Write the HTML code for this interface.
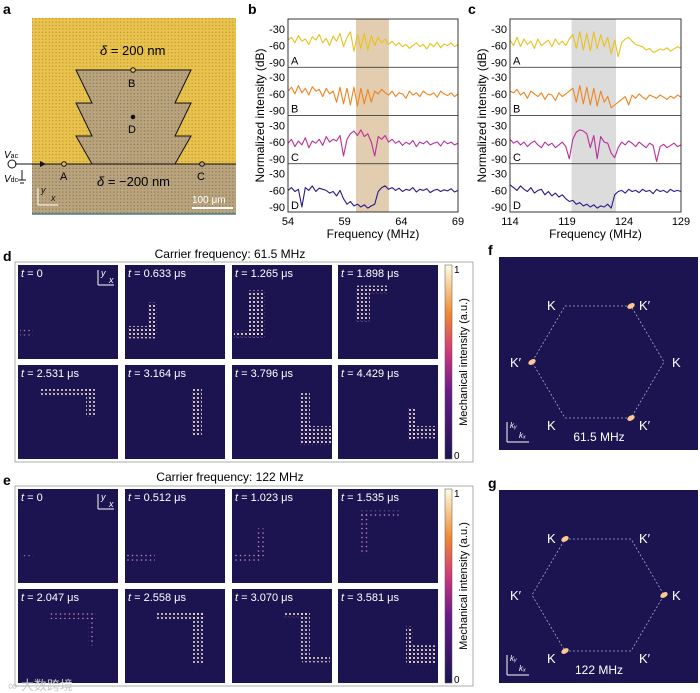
<!DOCTYPE html>
<html><head><meta charset="utf-8"><style>
html,body{margin:0;padding:0;background:#fff;}
svg{display:block;font-family:"Liberation Sans","Noto Sans CJK SC",sans-serif;}
</style></head><body>
<svg id="fig" width="700" height="693" viewBox="0 0 700 693">
<defs>
<pattern id="dotsY" width="3.4" height="3.4" patternUnits="userSpaceOnUse"><rect width="3.4" height="3.4" fill="#e9c34c"/><circle cx="1.7" cy="1.7" r="0.6" fill="#b08a35"/></pattern>
<pattern id="dotsT" width="3.4" height="3.4" patternUnits="userSpaceOnUse"><rect width="3.4" height="3.4" fill="#b9a47e"/><circle cx="1.7" cy="1.7" r="0.6" fill="#7d6a4c"/></pattern>
<pattern id="hot" width="4" height="4" patternUnits="userSpaceOnUse"><circle cx="2" cy="2" r="1" fill="#fff7d8"/><circle cx="0" cy="0" r="0.7" fill="#e05aa0"/></pattern>
<pattern id="warm" width="4.5" height="4.5" patternUnits="userSpaceOnUse"><circle cx="2" cy="2" r="0.8" fill="#f3a0c8"/></pattern>
<linearGradient id="cbar" x1="0" y1="1" x2="0" y2="0"><stop offset="0" stop-color="#1b1450"/><stop offset="0.35" stop-color="#6a1a8a"/><stop offset="0.55" stop-color="#d0387a"/><stop offset="0.75" stop-color="#f08a30"/><stop offset="1" stop-color="#fdfde0"/></linearGradient>
</defs>

<g>
<text x="3" y="14" font-size="14" font-weight="bold">a</text>
<rect x="32" y="18" width="204" height="196" fill="url(#dotsY)"/>
<rect x="32" y="164" width="204" height="50" fill="url(#dotsT)"/>
<polygon points="76,70 191,70 175,103 191,103 175,136 191,136 175,164 92,164 76,136 92,136 76,103 92,103" fill="url(#dotsT)" stroke="#111" stroke-width="1"/>
<line x1="15" y1="164" x2="92" y2="164" stroke="#111" stroke-width="1"/>
<line x1="175" y1="164" x2="236" y2="164" stroke="#111" stroke-width="1"/>
<line x1="32" y1="214" x2="236" y2="214" stroke="#4a7a8a" stroke-width="1.5"/>
<text x="100" y="55" font-size="13"><tspan font-style="italic">δ</tspan> = 200 nm</text>
<text x="97" y="186" font-size="13"><tspan font-style="italic">δ</tspan> = −200 nm</text>
<circle cx="133" cy="70" r="2.3" fill="#e9c34c" stroke="#111"/><text x="128" y="87" font-size="11">B</text>
<circle cx="133" cy="117" r="2.3" fill="#111"/><text x="128" y="133" font-size="11">D</text>
<circle cx="64" cy="164" r="2.3" fill="#e9c34c" stroke="#111"/><text x="60" y="180" font-size="11">A</text>
<circle cx="202" cy="164" r="2.3" fill="#b9a47e" stroke="#111"/><text x="197" y="180" font-size="11">C</text>
<circle cx="12" cy="164" r="4" fill="none" stroke="#111"/>
<polygon points="40,161 46,164 40,167" fill="#111"/>
<text x="4" y="158" font-size="10" font-style="italic">V<tspan font-size="7" font-style="normal">ac</tspan></text>
<text x="4" y="182" font-size="10" font-style="italic">V<tspan font-size="7" font-style="normal">dc</tspan></text>
<line x1="22" y1="170" x2="22" y2="180" stroke="#111"/><line x1="18" y1="180" x2="26" y2="180" stroke="#111"/><line x1="20" y1="183" x2="24" y2="183" stroke="#111"/>
<line x1="38" y1="205" x2="58" y2="205" stroke="#fff"/><line x1="38" y1="205" x2="38" y2="188" stroke="#fff"/>
<text x="41" y="193" font-size="9" font-style="italic" fill="#111">y</text><text x="51" y="201" font-size="9" font-style="italic" fill="#111">x</text>
<line x1="192" y1="208" x2="233" y2="208" stroke="#fff" stroke-width="2"/>
<text x="192" y="203" font-size="10" fill="#fff">100 μm</text>
</g>

<text x="248" y="14" font-size="14" font-weight="bold">b</text>
<text x="468" y="14" font-size="14" font-weight="bold">c</text>
<g id="specB"></g>
<g id="specC"></g>

<text x="3" y="261" font-size="14" font-weight="bold">d</text>
<text x="230" y="258" font-size="12" text-anchor="middle">Carrier frequency: 61.5 MHz</text>
<text x="3" y="485" font-size="14" font-weight="bold">e</text>
<text x="230" y="481" font-size="12" text-anchor="middle">Carrier frequency: 122 MHz</text>
<g id="heatD"></g>
<g id="heatE"></g>

<text x="488" y="255" font-size="14" font-weight="bold">f</text>
<text x="488" y="488" font-size="14" font-weight="bold">g</text>
<g id="bz"></g>

<text x="8" y="690" font-size="13" fill="#c8c8c8">∞ 大数跨境</text>
</svg>
<script>
const NS="http://www.w3.org/2000/svg";
function mk(p,tag,at){const e=document.createElementNS(NS,tag);for(const k in at)e.setAttribute(k,at[k]);p.appendChild(e);return e;}

const freqRangeB=[54,69];
const freqRangeC=[114,129];
const bandB=[60,62.9];
const bandC=[119.4,123.3];
const traceLabels=["A","B","C","D"];
const traceColors=["#e8c21e","#ef8420","#b8309a","#2a1a8a"];
const dbTicks=[-30,-60,-90];
const ticksB=[54,59,64,69];
const ticksC=[114,119,124,129];
const bA=[-50,-45,-55,-42,-52,-48,-58,-44,-50,-40,-55,-47,-60,-43,-52,-38,-62,-45,-35,-70,-40,-65,-38,-68,-42,-60,-45,-55,-48,-58,-52,-60,-55,-62,-58,-65,-60,-55,-62,-58,-66,-56,-62,-54,-64,-57,-60,-55,-62,-58];
const bB=[-55,-48,-60,-45,-58,-50,-62,-47,-55,-52,-65,-50,-60,-55,-75,-48,-78,-50,-80,-48,-82,-50,-78,-52,-75,-55,-60,-52,-58,-62,-55,-65,-58,-60,-68,-55,-62,-58,-65,-55,-60,-62,-58,-66,-55,-60,-63,-58,-65,-60];
const bC=[-62,-55,-68,-58,-65,-52,-70,-58,-62,-55,-66,-50,-60,-55,-58,-48,-85,-55,-45,-40,-48,-38,-50,-45,-60,-85,-50,-55,-48,-60,-55,-62,-58,-66,-60,-64,-57,-68,-60,-63,-58,-65,-62,-60,-67,-58,-63,-60,-65,-62];
const bD=[-60,-55,-62,-58,-90,-55,-60,-52,-62,-56,-58,-60,-65,-62,-70,-60,-75,-85,-80,-88,-85,-90,-86,-92,-88,-85,-62,-55,-52,-58,-55,-60,-56,-62,-58,-60,-55,-63,-58,-60,-57,-64,-60,-58,-62,-59,-61,-57,-63,-60];
const cA=[-50,-60,-45,-62,-48,-58,-52,-65,-48,-60,-55,-50,-62,-48,-58,-52,-60,-48,-40,-65,-35,-68,-38,-70,-35,-66,-40,-62,-45,-75,-50,-80,-55,-48,-45,-52,-58,-60,-62,-68,-65,-72,-70,-66,-68,-64,-70,-66,-62,-65];
const cB=[-55,-58,-52,-62,-57,-68,-55,-60,-65,-58,-70,-60,-62,-72,-58,-65,-60,-55,-50,-75,-45,-78,-48,-80,-50,-82,-55,-75,-65,-85,-80,-75,-70,-65,-80,-62,-68,-60,-66,-70,-62,-65,-68,-62,-66,-70,-64,-68,-62,-66];
const cC=[-55,-62,-58,-65,-60,-68,-62,-58,-65,-70,-60,-66,-62,-70,-65,-60,-68,-90,-55,-42,-38,-40,-45,-70,-48,-90,-50,-60,-62,-80,-88,-70,-60,-65,-58,-62,-68,-60,-65,-70,-62,-66,-95,-68,-64,-70,-66,-62,-68,-65];
const cD=[-50,-55,-60,-52,-58,-62,-55,-65,-60,-58,-68,-62,-70,-65,-72,-68,-75,-80,-78,-85,-82,-88,-85,-90,-86,-92,-88,-90,-85,-92,-68,-62,-60,-65,-58,-62,-60,-64,-58,-62,-60,-66,-58,-62,-60,-64,-58,-62,-60,-62];

function spectra(g,x0,x1,range,band,bandColor,ticks,series,key){
  const top=19,bot=212,sub=(bot-top)/4;
  const xs=f=>x0+(f-range[0])/(range[1]-range[0])*(x1-x0);
  const b=mk(g,'rect',{x:xs(band[0]),y:top,width:xs(band[1])-xs(band[0]),height:bot-top,fill:bandColor});
  
  
  series.forEach((vals,i)=>{
    const t0=top+i*sub;
    const ys=v=>t0+(v+12)/(-87)*sub;
    let d='';
    vals.forEach((v,j)=>{const f=range[0]+j*(range[1]-range[0])/(vals.length-1);d+=(j?'L':'M')+xs(f).toFixed(1)+','+ys(v).toFixed(1);});
    const p=mk(g,'path',{d:d,fill:'none',stroke:traceColors[i],'stroke-width':1.1,'stroke-linejoin':'round'});
    
    
    const tl=mk(g,'text',{x:x0+3,y:t0+sub-3,'font-size':11});tl.textContent=traceLabels[i];
    if(i>0)mk(g,'line',{x1:x0,x2:x1,y1:t0,y2:t0,stroke:'#222','stroke-width':0.8});
    dbTicks.forEach(v=>{const t=mk(g,'text',{x:x0-3,y:ys(v)+4,'font-size':11,'text-anchor':'end'});t.textContent=v;});
  });
  mk(g,'rect',{x:x0,y:top,width:x1-x0,height:bot-top,fill:'none',stroke:'#222','stroke-width':0.9});
  ticks.forEach(f=>{const t=mk(g,'text',{x:xs(f),y:bot+13,'font-size':11,'text-anchor':'middle'});t.textContent=f;});
  const xl=mk(g,'text',{x:(x0+x1)/2,y:bot+26,'font-size':12,'text-anchor':'middle'});xl.textContent='Frequency (MHz)';
  
  
  const yl=mk(g,'text',{x:0,y:0,'font-size':12,'text-anchor':'middle',transform:`translate(${x0-24},${(top+bot)/2}) rotate(-90)`});yl.textContent='Normalized intensity (dB)';
  
  
}
spectra(document.getElementById('specB'),288,458,freqRangeB,bandB,'#e3cdb0',ticksB,[bA,bB,bC,bD],'b');
spectra(document.getElementById('specC'),510,681,freqRangeC,bandC,'#dcdcdc',ticksC,[cA,cB,cC,cD],'c');

const timesD=["0","0.633 μs","1.265 μs","1.898 μs","2.531 μs","3.164 μs","3.796 μs","4.429 μs"];
const timesE=["0","0.512 μs","1.023 μs","1.535 μs","2.047 μs","2.558 μs","3.070 μs","3.581 μs"];
const regionsD=[
 [[0.02,0.68,0.15,0.75]],
 [[0.02,0.65,0.3,0.78],[0.22,0.4,0.32,0.75]],
 [[0.17,0.27,0.33,0.77],[0.02,0.7,0.3,0.77]],
 [[0.18,0.22,0.32,0.6],[0.3,0.22,0.5,0.3]],
 [[0.22,0.25,0.75,0.32],[0.68,0.25,0.78,0.55]],
 [[0.67,0.25,0.77,0.75]],
 [[0.68,0.3,0.78,0.85],[0.72,0.65,1,0.85]],
 [[0.7,0.45,0.78,0.8],[0.72,0.65,0.98,0.78]]];
const regionsE=[
 [[0.05,0.7,0.15,0.75]],
 [[0.02,0.68,0.3,0.78]],
 [[0.02,0.68,0.3,0.78],[0.25,0.42,0.32,0.75]],
 [[0.22,0.23,0.62,0.3],[0.22,0.25,0.3,0.7]],
 [[0.3,0.23,0.78,0.32],[0.7,0.3,0.75,0.6]],
 [[0.3,0.25,0.8,0.32],[0.68,0.25,0.78,0.8]],
 [[0.52,0.25,0.75,0.3],[0.68,0.25,0.78,0.75],[0.7,0.72,0.98,0.78]],
 [[0.68,0.4,0.75,0.78],[0.7,0.6,0.98,0.8]]];
const intensD=[0.5,0.8,1,1,0.7,1,1,0.8];
const intensE=[0.4,0.6,0.6,0.6,0.6,0.7,0.7,0.8];

function snapshots(g,rowY,times,regions,intens,key){
  const colX=[18,125,232,338],w=100,h=94;
  mk(g,'rect',{x:15,y:rowY[0]-3,width:458,height:rowY[1]+h-rowY[0]+6,fill:'#fff',stroke:'#999','stroke-width':0.8});
  times.forEach((t,i)=>{
    const x=colX[i%4],y=rowY[Math.floor(i/4)];
    const r=mk(g,'rect',{x:x,y:y,width:w,height:h,fill:'#1b1450'});
    
    
    regions[i].forEach(q=>{
      const hr=mk(g,'rect',{x:x+q[0]*w,y:y+q[1]*h,width:(q[2]-q[0])*w,height:(q[3]-q[1])*h,fill:intens[i]>0.65?'url(#hot)':'url(#warm)',opacity:Math.min(1,intens[i]+0.2)});
      
      
    });
    const tx=mk(g,'text',{x:x+3,y:y+12,'font-size':11,fill:'#fff'});
    tx.innerHTML='<tspan font-style="italic">t</tspan> = '+t;
    if(i===0){
      mk(g,'line',{x1:x+80,y1:y+20,x2:x+96,y2:y+20,stroke:'#fff'});
      mk(g,'line',{x1:x+80,y1:y+20,x2:x+80,y2:y+5,stroke:'#fff'});
      const a=mk(g,'text',{x:x+83,y:y+11,'font-size':9,fill:'#fff','font-style':'italic'});a.textContent='y';
      const b=mk(g,'text',{x:x+91,y:y+18,'font-size':9,fill:'#fff','font-style':'italic'});b.textContent='x';
    }
  });
  const cb=mk(g,'rect',{x:445,y:rowY[0],width:7,height:rowY[1]+h-rowY[0],fill:'url(#cbar)',stroke:'#555','stroke-width':0.5});
  
  
  const one=mk(g,'text',{x:454,y:rowY[0]+8,'font-size':10});one.textContent='1';
  const zero=mk(g,'text',{x:454,y:rowY[1]+h,'font-size':10});zero.textContent='0';
  const lab=mk(g,'text',{x:0,y:0,'font-size':11,'text-anchor':'middle',transform:`translate(467,${(rowY[0]+rowY[1]+h)/2}) rotate(-90)`});
  lab.textContent='Mechanical intensity (a.u.)';
}
snapshots(document.getElementById('heatD'),[265,365],timesD,regionsD,intensD,'d');
snapshots(document.getElementById('heatE'),[489,589],timesE,regionsE,intensE,'e');

// labels and hot flags in order: TL, TR, L, R, BL, BR
const bzFreq=["61.5 MHz","122 MHz"];
const bzLabels=[["K","K′","K′","K","K","K′"],["K","K′","K′","K","K","K′"]];
const bzHot=[[0,1,1,0,0,1],[1,0,0,1,1,0]];
function bz(g,top,labels,hot,freq,key){
  const x0=499,w=199,h=193;
  const bg=mk(g,'rect',{x:x0,y:top,width:w,height:h,fill:'#1b1450'});
  
  
  const cx=x0+99,cy=top+105,R=66;
  const ang=[240,300,0,60,120,180];
  const pts=ang.map(a=>[cx+R*Math.cos(a*Math.PI/180),cy+R*Math.sin(a*Math.PI/180)*0.98]);
  mk(g,'polygon',{points:pts.map(p=>p.join(',')).join(' '),fill:'none',stroke:'#aab','stroke-width':0.8,'stroke-dasharray':'2,2'});
  const lp=[[-18,4],[8,4],[-22,5],[8,5],[-18,12],[8,12]];
  const idx=[0,1,5,2,4,3];
  idx.forEach((pi,k)=>{
    const p=pts[pi];
    const t=mk(g,'text',{x:p[0]+lp[k][0],y:p[1]+lp[k][1],'font-size':13,fill:'#fff'});t.textContent=labels[k];
    if(hot[k]){const s=mk(g,'ellipse',{cx:p[0],cy:p[1],rx:4,ry:2.5,fill:'#ffc890',transform:`rotate(-30 ${p[0]} ${p[1]})`});
      
      }
  });
  mk(g,'line',{x1:x0+8,y1:top+h-8,x2:x0+30,y2:top+h-8,stroke:'#fff'});
  mk(g,'line',{x1:x0+8,y1:top+h-8,x2:x0+8,y2:top+h-28,stroke:'#fff'});
  const ky=mk(g,'text',{x:x0+11,y:top+h-22,'font-size':8,fill:'#fff','font-style':'italic'});ky.textContent='kᵧ';
  const kx=mk(g,'text',{x:x0+20,y:top+h-12,'font-size':8,fill:'#fff','font-style':'italic'});kx.textContent='kₓ';
  const f=mk(g,'text',{x:x0+100,y:top+h-9,'font-size':12,fill:'#fff','text-anchor':'middle'});f.textContent=freq;
}
bz(document.getElementById('bz'),257,bzLabels[0],bzHot[0],bzFreq[0],'f');
bz(document.getElementById('bz'),490,bzLabels[1],bzHot[1],bzFreq[1],'g');
</script>
</body></html>
